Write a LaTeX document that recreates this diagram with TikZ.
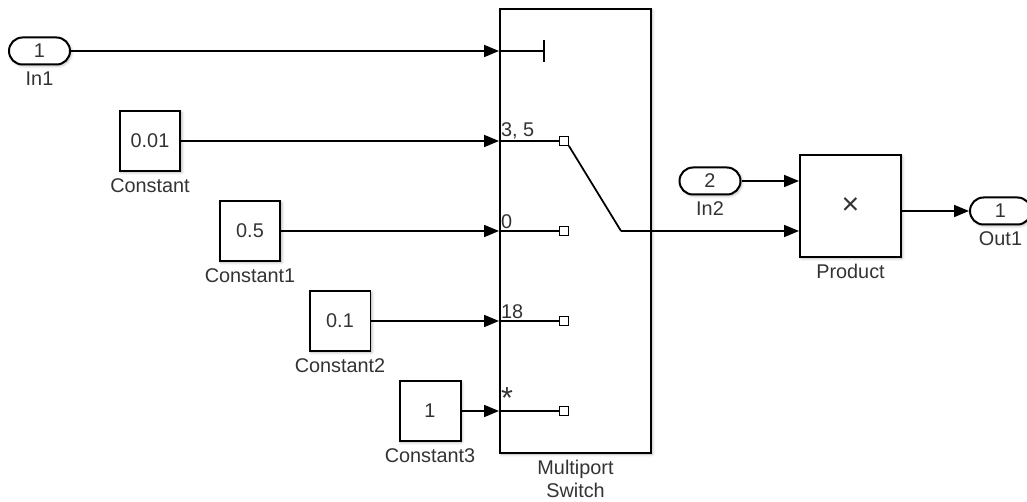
\documentclass[tikz,border=0pt]{standalone}
\usepackage{fontspec}
\setmainfont{Liberation Sans}
\usetikzlibrary{arrows.meta,shapes.misc,shadows.blur}
\definecolor{slgray}{HTML}{333333}

\begin{document}
\begin{tikzpicture}[>={Triangle[length=0.3cm,width=0.24cm]}, x=0.02cm, y=-0.02cm,
  font=\fontsize{11.3}{13}\selectfont, text=slgray,
  shd/.style={blur shadow={shadow xshift=0.8pt, shadow yshift=-0.8pt, shadow blur radius=1.5pt, shadow opacity=30}},
  blk/.style={draw=black, line width=0.04cm, fill=white, inner sep=0pt, shd,
    minimum width=1.22cm, minimum height=1.2cm, label distance=0pt},
  pill/.style={rounded rectangle, draw=black, line width=0.04cm, fill=white, inner sep=0pt, shd,
    minimum width=1.22cm, minimum height=0.54cm, label distance=1pt},
  wire/.style={line width=0.035cm},
  portsq/.style={draw=black, fill=white, line width=0.025cm, minimum size=0.17cm, inner sep=0pt},
  plbl/.style={anchor=south west, inner sep=1pt}]
  \clip (0,0) rectangle (1027,502);

  % Eingaenge und Konstanten
  \node[pill, label=below:In1] (in1) at (39.5,51) {1};
  \node[blk, label=below:Constant]  (const0) at (150,141) {0.01};
  \node[blk, label=below:Constant1] (const1) at (250,231) {0.5};
  \node[blk, label=below:Constant2] (const2) at (340,321) {0.1};
  \node[blk, label=below:Constant3] (const3) at (430,411) {1};

  % Multiport Switch
  \node[blk, minimum width=3.02cm, minimum height=8.88cm,
    label={[align=center]below:Multiport\\Switch}] (mswitch) at (575.5,231) {};

  % Product und Ausgang
  \node[pill, label=below:In2] (in2) at (710,181) {2};
  \node[blk, minimum width=2.02cm, minimum height=2.04cm, label=below:Product] (prod) at (850.5,206) {\LARGE ×};
  \node[pill, label=below:Out1] (out1) at (1000.5,211) {1};

  % Verbindungen
  \draw[wire,->] (in1.east) -- (in1.east -| mswitch.west);
  \foreach \i in {0,...,3}
    \draw[wire,->] (const\i.east) -- (const\i.east -| mswitch.west);

  % Steuereingang
  \coordinate (ctrl) at (544,51);
  \draw[wire] (in1.east -| mswitch.west) -- (ctrl);
  \draw[wire] ([yshift=0.22cm]ctrl) -- ([yshift=-0.22cm]ctrl);

  % Dateneingaenge
  \foreach \y/\n/\t in {141/2/{3, 5}, 231/3/0, 321/4/18, 411/5/{\LARGE *}} {
    \node[portsq] (sq\n) at (564,\y) {};
    \draw[wire] (mswitch.west |- sq\n) -- (sq\n.west);
    \node[plbl] (pl\n) at (mswitch.west |- sq\n) {\t};
  }

  % Schalter und Ausgang
  \coordinate (swout) at (621,231);
  \draw[wire] (sq2.south east) -- (swout);
  \draw[wire,->] (swout) -- (swout -| prod.west);
  \draw[wire,->] (in2.east) -- (in2.east -| prod.west);
  \draw[wire,->] (prod.east |- out1.west) -- (out1.west);
\end{tikzpicture}
\end{document}
